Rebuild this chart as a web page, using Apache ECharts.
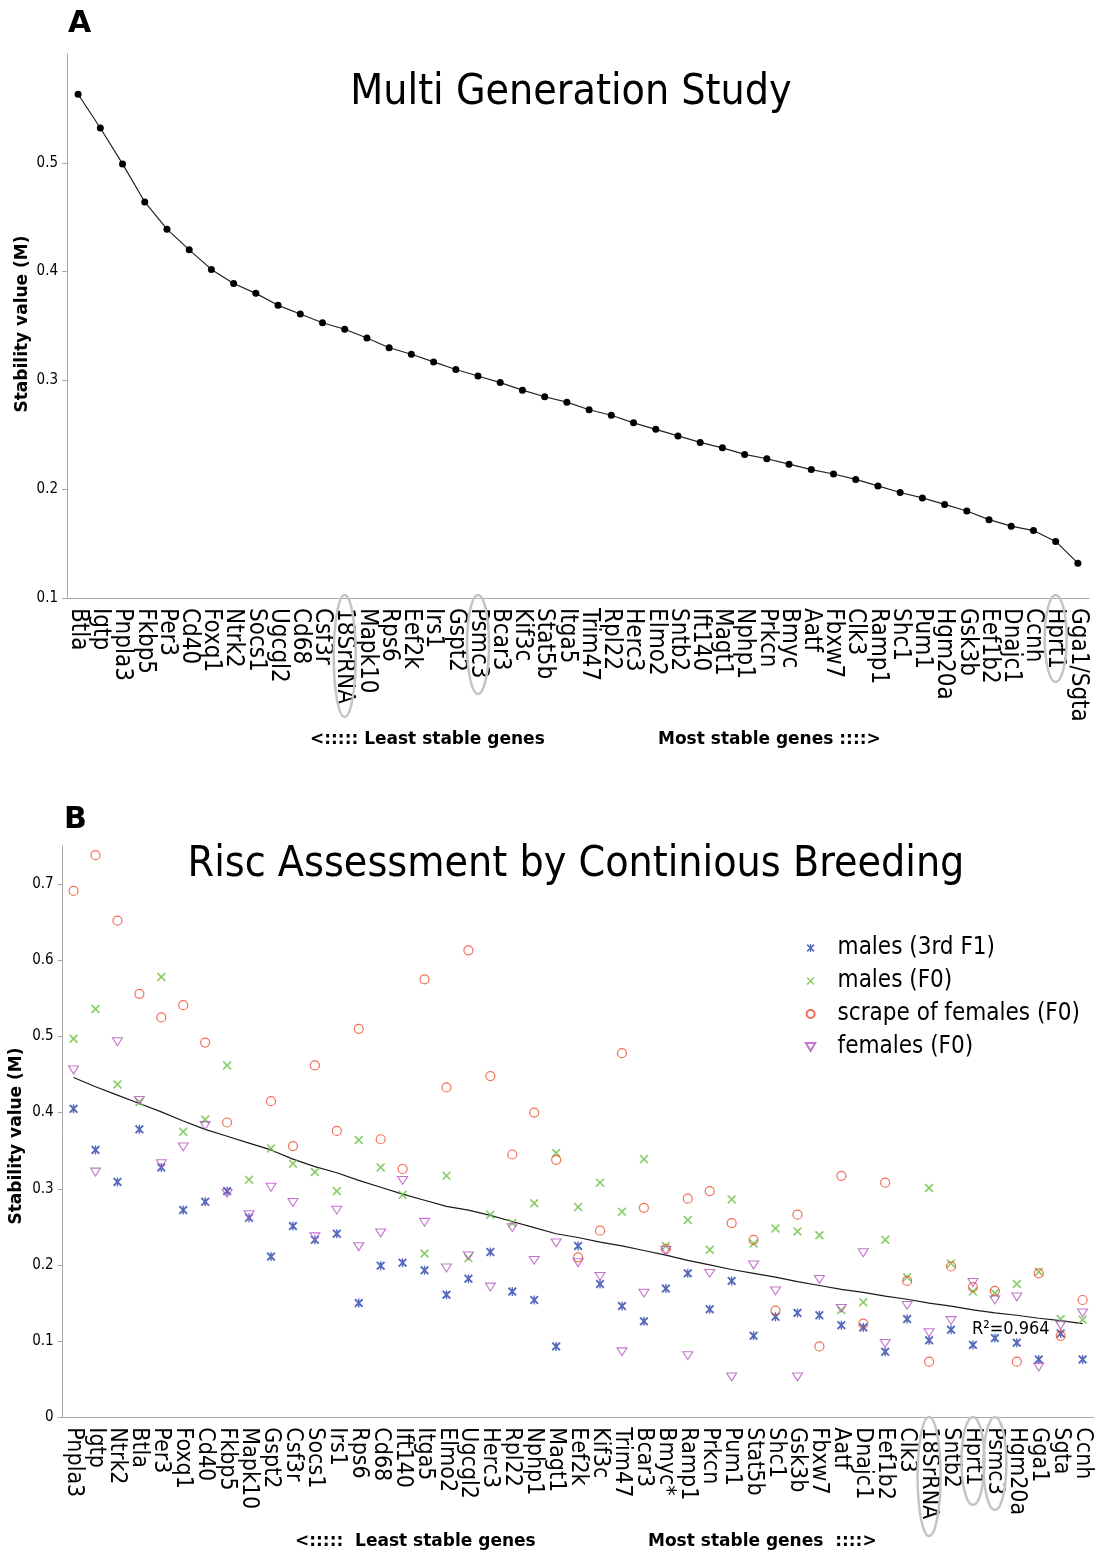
<!DOCTYPE html>
<html><head><meta charset="utf-8">
<script src="https://cdn.jsdelivr.net/npm/echarts@6/dist/echarts.min.js"></script>
<style>html,body{margin:0;padding:0;background:#fff}#c{width:1097px;height:1554px}</style>
</head><body><div id="c"></div>
<script>
// ---------- Panel A data ----------
const genesA = ['Btla','Igtp','Pnpla3','Fkbp5','Per3','Cd40','Foxq1','Ntrk2','Socs1','Ugcgl2','Cd68','Csf3r','18SrRNA','Mapk10','Rps6','Eef2k','Irs1','Gspt2','Psmc3','Bcar3','Kif3c','Stat5b','Itga5','Trim47','Rpl22','Herc3','Elmo2','Sntb2','Ift140','Magt1','Nphp1','Prkcn','Bmyc','Aatf','Fbxw7','Clk3','Ramp1','Shc1','Pum1','Hgm20a','Gsk3b','Eef1b2','Dnajc1','Ccnh','Hprt1','Gga1/Sgta'];
const stabilityA = [0.563,0.532,0.499,0.464,0.439,0.420,0.402,0.389,0.380,0.369,0.361,0.353,0.347,0.339,0.330,0.324,0.317,0.310,0.304,0.298,0.291,0.285,0.280,0.273,0.268,0.261,0.255,0.249,0.243,0.238,0.232,0.228,0.223,0.218,0.214,0.209,0.203,0.197,0.192,0.186,0.180,0.172,0.166,0.162,0.152,0.132];
const yTicksA = [0.1,0.2,0.3,0.4,0.5];
const circledA = ['18SrRNA','Psmc3','Hprt1'];

// ---------- Panel B data ----------
const genesB = ['Pnpla3','Igtp','Ntrk2','Btla','Per3','Foxq1','Cd40','Fkbp5','Mapk10','Gspt2','Csf3r','Socs1','Irs1','Rps6','Cd68','Ift140','Itga5','Elmo2','Ugcgl2','Herc3','Rpl22','Nphp1','Magt1','Eef2k','Kif3c','Trim47','Bcar3','Bmyc*','Ramp1','Prkcn','Pum1','Stat5b','Shc1','Gsk3b','Fbxw7','Aatf','Dnajc1','Eef1b2','Clk3','18SrRNA','Sntb2','Hprt1','Psmc3','Hgm20a','Gga1','Sgta','Ccnh'];
const males3rdF1 = [0.405,0.351,0.309,0.378,0.328,0.272,0.283,0.297,0.262,0.211,0.251,0.233,0.241,0.150,0.199,0.203,0.193,0.161,0.182,0.217,0.165,0.154,0.093,0.225,0.175,0.146,0.126,0.169,0.189,0.142,0.179,0.107,0.132,0.137,0.134,0.121,0.118,0.086,0.129,0.101,0.115,0.095,0.104,0.098,0.076,0.110,0.076];
const malesF0 = [0.497,0.536,0.437,0.414,0.578,0.375,0.391,0.462,0.312,0.353,0.333,0.322,0.297,0.364,0.328,0.292,0.215,0.317,0.209,0.266,0.255,0.281,0.347,0.276,0.308,0.270,0.339,0.225,0.259,0.220,0.286,0.228,0.248,0.244,0.239,0.141,0.151,0.233,0.184,0.301,0.202,0.165,0.163,0.175,0.191,0.129,0.128];
const scrapeFemalesF0 = [0.691,0.738,0.652,0.556,0.525,0.541,0.492,0.387,null,0.415,0.356,0.462,0.376,0.510,0.365,0.326,0.575,0.433,0.613,0.448,0.345,0.400,0.338,0.210,0.245,0.478,0.275,0.221,0.287,0.297,0.255,0.233,0.140,0.266,0.093,0.317,0.123,0.308,0.179,0.073,0.198,0.171,0.166,0.073,0.189,0.107,0.154];
const femalesF0 = [0.456,0.322,0.493,0.416,0.333,0.355,0.383,0.294,0.266,0.302,0.282,0.237,0.272,0.224,0.242,0.311,0.256,0.196,0.212,0.171,0.249,0.206,0.229,0.203,0.185,0.086,0.163,0.219,0.081,0.189,0.053,0.200,0.166,0.053,0.181,0.143,0.216,0.097,0.147,0.111,0.127,0.177,0.154,0.158,0.066,0.121,0.137];
const trendB = [0.446,0.434,0.423,0.412,0.401,0.389,0.378,0.369,0.360,0.351,0.339,0.329,0.321,0.311,0.302,0.293,0.285,0.277,0.272,0.265,0.257,0.249,0.241,0.236,0.230,0.225,0.219,0.213,0.206,0.200,0.194,0.189,0.184,0.178,0.173,0.168,0.164,0.159,0.155,0.150,0.146,0.141,0.137,0.134,0.130,0.127,0.123];
const yTicksB = [0,0.1,0.2,0.3,0.4,0.5,0.6,0.7];
const circledB = ['18SrRNA','Hprt1','Psmc3'];
const seriesNamesB = ['males (3rd F1)','males (F0)','scrape of females (F0)','females (F0)'];

// ---------- styling ----------
const F = "'DejaVu Sans Condensed', 'Liberation Sans', sans-serif";
const FB = "'DejaVu Sans', sans-serif";
const AX = '#a8a8a8';
const X_PATH = 'path://M0,1.3L1.3,0L5,3.7L8.7,0L10,1.3L6.3,5L10,8.7L8.7,10L5,6.3L1.3,10L0,8.7L3.7,5Z';
const AST_PATH = 'path://M0,1.5L1.5,0L5,3.5L8.5,0L10,1.5L6.5,5L10,8.5L8.5,10L5,6.5L1.5,10L0,8.5L3.5,5Z M4.25,0L5.75,0L5.75,10L4.25,10Z';
const TRI_DOWN = 'path://M0,0L10,0L5,8.7Z';

function xAxisCfg(grid, data, fs) {
  return {
    type: 'category', gridIndex: grid, data: data, boundaryGap: true,
    axisLine: { lineStyle: { color: AX, width: 1 } },
    axisTick: { alignWithLabel: true, length: 5, lineStyle: { color: AX } },
    axisLabel: { interval: 0, rotate: -90, fontSize: fs, color: '#000', fontFamily: F, margin: 10 },
    splitLine: { show: false }
  };
}
function yAxisCfg(grid, min, max, ticks) {
  return {
    type: 'value', gridIndex: grid, min: min, max: max, interval: 0.1,
    axisLine: { show: true, lineStyle: { color: AX, width: 1 } },
    axisTick: { show: true, length: 5, lineStyle: { color: AX }, customValues: ticks },
    axisLabel: { fontSize: 15, color: '#000', fontFamily: F, margin: 9, customValues: ticks },
    splitLine: { show: false }
  };
}
function txt(id, x, y, text, fs, bold, align, rot) {
  return { type: 'text', id: id, x: x, y: y, z: 10, rotation: rot || 0,
    style: { text: text, fontSize: fs, fontFamily: bold ? FB : F, fontWeight: bold ? 'bold' : 'normal',
      fill: '#000', textAlign: align || 'left', textVerticalAlign: 'middle' } };
}

const chart = echarts.init(document.getElementById('c'), null, { renderer: 'canvas' });
const option = {
  animation: false,
  backgroundColor: '#fff',
  grid: [
    { left: 67, top: 54, width: 1022, height: 544 },
    { left: 62.6, top: 846, width: 1031, height: 571.3 }
  ],
  xAxis: [ xAxisCfg(0, genesA, 24), xAxisCfg(1, genesB, 23) ],
  yAxis: [ yAxisCfg(0, 0.1, 0.6, yTicksA), yAxisCfg(1, 0, 0.75, yTicksB) ],
  legend: {
    data: seriesNamesB, orient: 'vertical', left: 800, top: 931,
    itemWidth: 44, itemHeight: 8, itemGap: 9, symbolKeepAspect: true,
    textStyle: { fontSize: 24, fontFamily: F, color: '#000', lineHeight: 24 }
  },
  series: [
    { name: 'Multi Generation Study', type: 'line', xAxisIndex: 0, yAxisIndex: 0, data: stabilityA,
      symbol: 'circle', symbolSize: 7, itemStyle: { color: '#000' }, lineStyle: { color: '#222', width: 1.2 } },
    { name: 'trend', type: 'line', xAxisIndex: 1, yAxisIndex: 1, data: trendB, symbol: 'none',
      lineStyle: { color: '#1a1a1a', width: 1.2 }, z: 1 },
    { name: seriesNamesB[0], type: 'scatter', xAxisIndex: 1, yAxisIndex: 1, data: males3rdF1,
      symbol: AST_PATH, symbolSize: 9, symbolKeepAspect: true, itemStyle: { color: '#2c45aa' } },
    { name: seriesNamesB[1], type: 'scatter', xAxisIndex: 1, yAxisIndex: 1, data: malesF0,
      symbol: X_PATH, symbolSize: 9, symbolKeepAspect: true, itemStyle: { color: '#6cbf45' } },
    { name: seriesNamesB[2], type: 'scatter', xAxisIndex: 1, yAxisIndex: 1, data: scrapeFemalesF0,
      symbol: 'circle', symbolSize: 9, itemStyle: { color: 'rgba(0,0,0,0)', borderColor: '#f04a2c', borderWidth: 1.2 } },
    { name: seriesNamesB[3], type: 'scatter', xAxisIndex: 1, yAxisIndex: 1, data: femalesF0,
      symbol: TRI_DOWN, symbolSize: [10, 9], symbolKeepAspect: true, itemStyle: { color: 'rgba(0,0,0,0)', borderColor: '#b452c0', borderWidth: 1.1 } }
  ],
  graphic: [
    txt('lblA', 68, 24, 'A', 30, true),
    txt('lblB', 64, 820, 'B', 30, true),
    txt('titA', 571, 93, 'Multi Generation Study', 42.5, false, 'center'),
    txt('titB', 576, 865, 'Risc Assessment by Continious Breeding', 42.5, false, 'center'),
    txt('yNameA', 23, 324, 'Stability value (M)', 17, true, 'center', Math.PI / 2),
    txt('yNameB', 17, 1136, 'Stability value (M)', 17, true, 'center', Math.PI / 2),
    txt('leastA', 310, 740, '<::::: Least stable genes', 17, true),
    txt('mostA', 658, 740, 'Most stable genes ::::>', 17, true),
    txt('leastB', 295, 1542, '<:::::  Least stable genes', 17, true),
    txt('mostB', 648, 1542, 'Most stable genes  ::::>', 17, true),
    txt('r2', 972, 1329, 'R\u00b2=0.964', 18, false)
  ]
};
chart.setOption(option);

// circled reference genes (annotation ellipses under the axis labels)
const ringsA = { '18SrRNA': 61, 'Psmc3': 49.5, 'Hprt1': 43.5 };
const ringsB = { '18SrRNA': 59.5, 'Hprt1': 44, 'Psmc3': 46.5 };
const extra = [];
circledA.forEach(function (g, k) {
  const x = chart.convertToPixel({ xAxisIndex: 0 }, g);
  const ry = ringsA[g];
  extra.push({ type: 'ellipse', id: 'ringA' + k, z: 5, shape: { cx: x, cy: 595 + ry, rx: 11, ry: ry },
    style: { fill: 'none', stroke: '#c4c4c4', lineWidth: 2.5 } });
});
circledB.forEach(function (g, k) {
  const x = chart.convertToPixel({ xAxisIndex: 1 }, g);
  const ry = ringsB[g];
  extra.push({ type: 'ellipse', id: 'ringB' + k, z: 5, shape: { cx: x, cy: 1417 + ry, rx: 11.5, ry: ry },
    style: { fill: 'none', stroke: '#c4c4c4', lineWidth: 2.5 } });
});
chart.setOption({ graphic: extra });
</script>
</body></html>
